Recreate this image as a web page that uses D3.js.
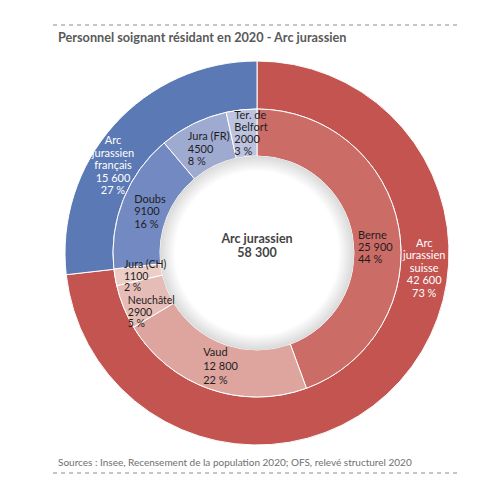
<!DOCTYPE html>
<html>
<head>
<meta charset="utf-8">
<script src="https://cdn.jsdelivr.net/npm/d3@7"></script>
<style>
  body { margin: 0; background: #fff; }
  text { font-family: Lato, "Open Sans", sans-serif; }
</style>
</head>
<body>
<div id="chart"></div>
<script>
// Data
const groups = ['Arc jurassien suisse', 'Arc jurassien français']
const groupValues = [42600, 15600]
const regions = ['Berne', 'Vaud', 'Neuchâtel', 'Jura (CH)', 'Doubs', 'Jura (FR)', 'Ter. de Belfort']
const regionValues = [25900, 12800, 2900, 1100, 9100, 4500, 2000]
const total = 58300 // total shown in the centre

// Canvas
const width = 500,
  height = 493,
  cx = 257,
  cy = 253

const rHole = 97,
  rMid = 144,
  rOuter = 192

const groupColors = ['#c35450', '#5b79b4']
const regionColors = ['#cc6c67', '#dea59f', '#e6bdb6', '#edcec7', '#7389c1', '#9eaad0', '#bcc3de']

// label layout: nudges from the slice centroid, line spacing, font size
const outerLabelAngles = [95.5, 301]
const labelNudge = [[0, 16], [4, 1], [6, 14], [7, 3], [5, 4], [5, 5], [7, 1]]
const labelLeading = [12, 14, 11.5, 11.5, 12.5, 12.5, 12.3]
const labelSize = [11, 11, 10.5, 10.5, 11, 11, 11]

// french style numbers: 2000, 12 800
let fmt = (v) => v >= 10000 ? d3.format(',')(v).replace(/,/g, ' ') : String(v)
let pct = (v) => Math.round(v / total * 100) + ' %'

let svg = d3.select('#chart')
  .append('svg')
  .attr('width', width)
  .attr('height', height)

// gradient for the shadow inside the hole
let grad = svg.append('defs')
  .append('radialGradient')
  .attr('id', 'hole')
grad.append('stop').attr('offset', '84%').attr('stop-color', '#fff')
grad.append('stop').attr('offset', '100%').attr('stop-color', '#d9d9d9')

let g = svg.append('g')
  .attr('transform', `translate(${cx},${cy})`)

const pie = d3.pie().sort(null).value(d => d)

const outerArc = d3.arc().innerRadius(rMid).outerRadius(rOuter)
const innerArc = d3.arc().innerRadius(rHole).outerRadius(rMid)

// outer ring
g.selectAll('path.group')
  .data(pie(groupValues))
  .enter()
  .append('path')
  .attr('class', 'group')
  .attr('d', outerArc)
  .attr('fill', (d, i) => groupColors[i])
  .attr('stroke', '#fff')
  .attr('stroke-width', 1)

// inner ring
g.selectAll('path.region')
  .data(pie(regionValues))
  .enter()
  .append('path')
  .attr('class', 'region')
  .attr('d', innerArc)
  .attr('fill', (d, i) => regionColors[i])
  .attr('stroke', '#fff')
  .attr('stroke-width', 1)

// shadow in the hole
g.append('circle')
  .attr('r', rHole)
  .attr('fill', 'url(#hole)')

// labels of the inner ring: left aligned block around the centroid
pie(regionValues).forEach((d, i) => {
  let lines = regions[i] === 'Ter. de Belfort' ? ['Ter. de', 'Belfort'] : [regions[i]]
  lines = lines.concat([fmt(regionValues[i]), pct(regionValues[i])])
  let lh = labelLeading[i]
  let c = innerArc.centroid(d)
  let t = g.append('text')
    .attr('font-size', labelSize[i])
    .attr('fill', '#1e1e1e')
  lines.forEach((l, j) => {
    t.append('tspan').attr('x', 0).attr('y', j * lh).text(l)
  })
  let w = t.node().getBBox().width
  let h = lines.length * lh
  t.attr('transform', `translate(${c[0] - w / 2 + labelNudge[i][0]},${c[1] - h / 2 + 9 + labelNudge[i][1]})`)
})

// labels of the outer ring
groups.forEach((name, i) => {
  let lines = name.split(' ').concat([fmt(groupValues[i]), pct(groupValues[i])])
  let a = outerLabelAngles[i] * Math.PI / 180
  let r = (rMid + rOuter) / 2
  let x = Math.sin(a) * r,
    y = -Math.cos(a) * r
  let t = g.append('text')
    .attr('font-size', 11)
    .attr('fill', '#fff')
    .attr('text-anchor', 'middle')
  lines.forEach((l, j) => {
    t.append('tspan')
      .attr('x', x)
      .attr('y', y - lines.length * 12.5 / 2 + 9 + j * 12.5)
      .text(l)
  })
})

// centre label
g.append('text')
  .attr('text-anchor', 'middle')
  .attr('font-size', 12.5)
  .attr('font-weight', 'bold')
  .attr('fill', '#444')
  .selectAll('tspan')
  .data(['Arc jurassien', fmt(total)])
  .enter()
  .append('tspan')
  .attr('x', 0)
  .attr('y', (d, i) => -10 + i * 14)
  .text(d => d)

// dashed frame lines, title and source
svg.append('line')
  .attr('x1', 53).attr('x2', 458)
  .attr('y1', 25).attr('y2', 25)
  .attr('stroke', '#c4c4c4')
  .attr('stroke-width', 2)
  .attr('stroke-dasharray', '4,4')

svg.append('text')
  .attr('x', 58)
  .attr('y', 42)
  .attr('font-size', 12.7)
  .attr('font-weight', 'bold')
  .attr('fill', '#595959')
  .text('Personnel soignant résidant en 2020 - Arc jurassien')

svg.append('text')
  .attr('x', 58)
  .attr('y', 466)
  .attr('font-size', 10)
  .attr('fill', '#6f6f6f')
  .text('Sources : Insee, Recensement de la population 2020; OFS, relevé structurel 2020')

svg.append('line')
  .attr('x1', 53).attr('x2', 458)
  .attr('y1', 473).attr('y2', 473)
  .attr('stroke', '#c4c4c4')
  .attr('stroke-width', 2)
  .attr('stroke-dasharray', '4,4')
</script>
</body>
</html>
